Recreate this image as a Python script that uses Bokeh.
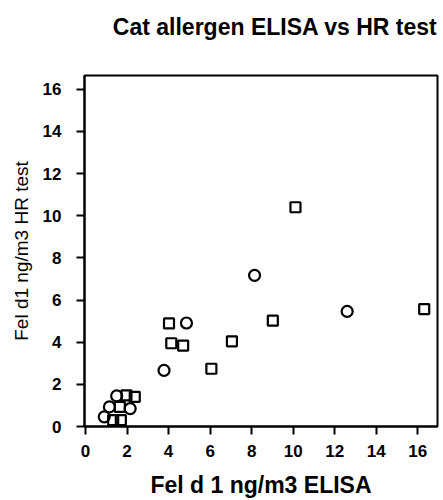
from bokeh.plotting import figure
from bokeh.models import Range1d, FixedTicker, Title
from bokeh.embed import file_html
from bokeh.resources import INLINE

# Data
circle_x = [8.14, 12.6, 4.86, 3.78, 1.5, 1.15, 2.15, 0.9]
circle_y = [7.17, 5.46, 4.91, 2.66, 1.45, 0.93, 0.85, 0.46]
square_x = [10.11, 16.31, 9.02, 4.02, 4.13, 4.70, 7.05, 6.06, 1.97, 2.37, 1.65, 1.33, 1.70]
square_y = [10.40, 5.57, 5.02, 4.89, 3.95, 3.84, 4.04, 2.74, 1.48, 1.41, 0.93, 0.30, 0.30]
tick_values = [0, 2, 4, 6, 8, 10, 12, 14, 16]
title_text = "Cat allergen ELISA vs HR test"

FONT = "Liberation Sans"

p = figure(width=443, height=500, output_backend="svg", toolbar_location=None,
           x_range=Range1d(-0.05, 16.95), y_range=Range1d(0, 16.65),
           min_border_left=84, min_border_right=6, min_border_top=75, min_border_bottom=72)

# spacer between frame and title, then the title itself (stacked outward)
p.add_layout(Title(text=" ", text_font=FONT, text_font_size="23px", standoff=8), "above")
p.add_layout(Title(text=title_text, align="right", text_font=FONT, text_font_size="23px",
                   text_font_style="bold", text_color="black", standoff=0), "above")

p.scatter(circle_x, circle_y, marker="circle", size=11, line_color="black",
          line_width=2.2, fill_color=None)
p.scatter(square_x, square_y, marker="square", size=10, line_color="black",
          line_width=2.2, fill_color=None)

p.xgrid.visible = False
p.ygrid.visible = False
p.outline_line_color = "black"
p.outline_line_width = 2

for ax in (p.xaxis[0], p.yaxis[0]):
    ax.ticker = FixedTicker(ticks=tick_values)
    ax.minor_tick_line_color = None
    ax.major_tick_in = 0
    ax.major_tick_out = 8
    ax.major_tick_line_width = 2
    ax.axis_line_width = 2
    ax.major_label_text_font = FONT
    ax.major_label_text_font_size = "17px"
    ax.major_label_text_font_style = "bold"
    ax.major_label_text_color = "black"
    ax.axis_label_text_color = "black"
    ax.axis_label_text_font = FONT

p.xaxis.axis_label = "Fel d 1 ng/m3 ELISA"
p.xaxis.axis_label_text_font_size = "23px"
p.xaxis.axis_label_text_font_style = "bold"
p.xaxis.axis_label_text_line_height = 1.0
p.xaxis.major_label_standoff = 10
p.xaxis.axis_label_standoff = 12

p.yaxis.axis_label = "Fel d1 ng/m3 HR test"
p.yaxis.axis_label_text_font_size = "19px"
p.yaxis.axis_label_text_font_style = "normal"
p.yaxis.major_label_standoff = 15
p.yaxis.axis_label_standoff = 8

open("out.html", "w").write(file_html(p, INLINE))
